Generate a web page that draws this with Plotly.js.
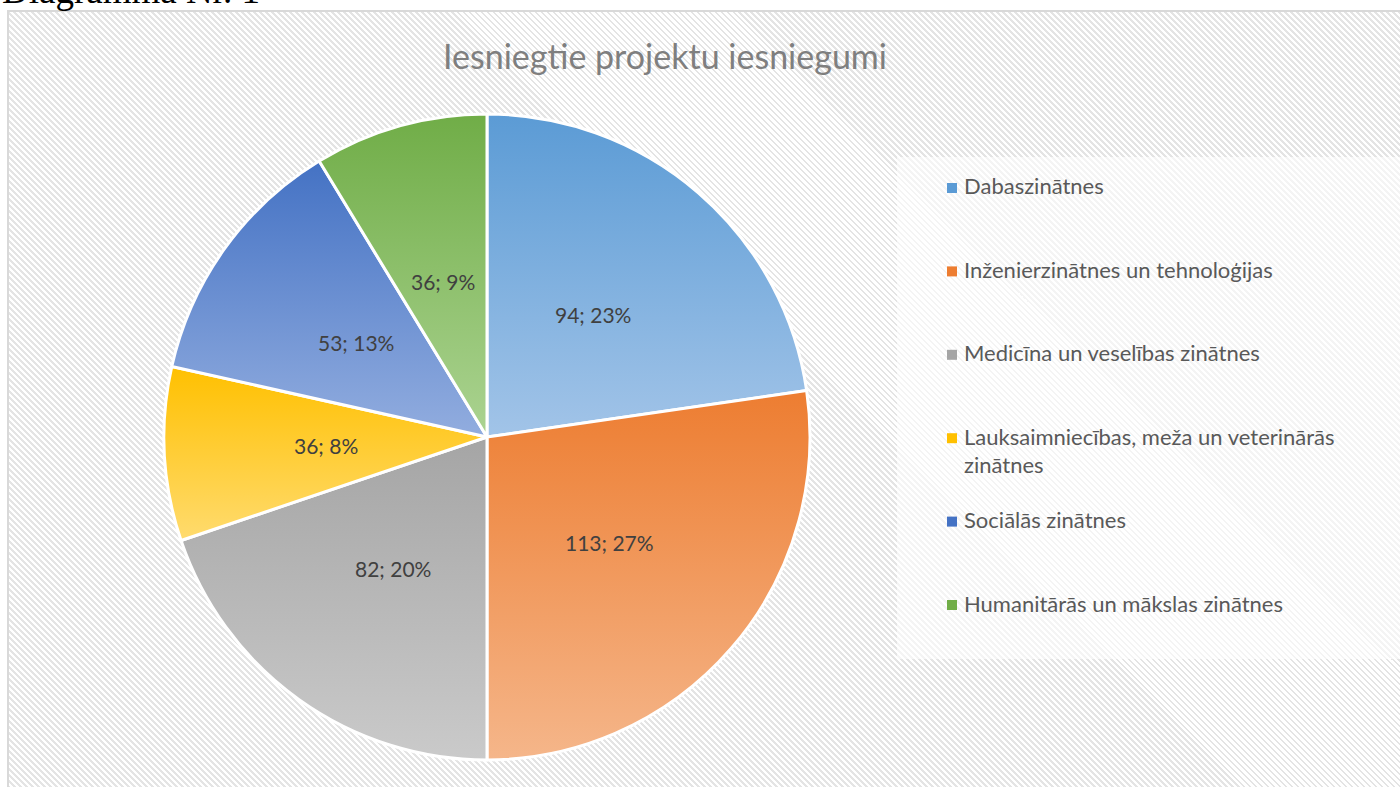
<!DOCTYPE html>
<html>
<head>
<meta charset="utf-8">
<script src="https://cdn.plot.ly/plotly-3.0.1.min.js"></script>
<style>
  html, body { margin: 0; padding: 0; width: 1400px; height: 787px; overflow: hidden; background: #fff; }
  #frame {
    position: absolute; left: 7px; top: 10px; width: 1500px; height: 900px;
    border: 2px solid #d9d9d9; box-sizing: border-box;
    background-color: #fff;
    background-image: repeating-linear-gradient(45deg, #e4e4e4 0px, #e4e4e4 2px, #ffffff 2px, #ffffff 4.24px);
  }
  #legendbox {
    position: absolute; left: 897px; top: 157px; width: 503px; height: 502px;
    background: rgba(255,255,255,0.6);
  }
  #chart { position: absolute; left: 0; top: 0; width: 1400px; height: 787px; }
</style>
</head>
<body>
<div id="frame"></div>
<div id="legendbox"></div>
<div id="chart"></div>
<script>
// ---- data ----
const categories = [
  "Dabaszinātnes",
  "Inženierzinātnes un tehnoloģijas",
  "Medicīna un veselības zinātnes",
  "Lauksaimniecības, meža un veterinārās zinātnes",
  "Sociālās zinātnes",
  "Humanitārās un mākslas zinātnes"
];
const values = [94, 113, 82, 36, 53, 36];
const percentLabels = ["23%", "27%", "20%", "8%", "13%", "9%"];
const colorsTop    = ["#5B9BD5", "#ED7D31", "#A5A5A5", "#FFC000", "#4472C4", "#70AD47"];
const colorsBottom = ["#A2C4E8", "#F5B68A", "#CACACA", "#FFDB6E", "#92ADDF", "#ABD391"];
const chartTitle = "Iesniegtie projektu iesniegumi";
const captionText = "Diagramma Nr. 1";

// ---- layout helpers ----
const W = 1400, H = 787;
const px = x => x / W;
const py = y => 1 - y / H;
const CX = 487, CY = 437, R = 323;

const sliceText = values.map((v, i) => v + "; " + percentLabels[i]);

const trace = {
  type: "pie",
  labels: categories,
  values: values,
  text: sliceText,
  textinfo: "none",
  sort: false,
  direction: "clockwise",
  rotation: 0,
  marker: { colors: colorsTop, line: { color: "#ffffff", width: 3 } },
  hoverinfo: "label+text",
  domain: { x: [px(CX - R), px(CX + R)], y: [py(CY + R), py(CY - R)] },
  showlegend: false
};

const annotations = [];
const shapes = [];

// data labels at half radius along each slice bisector (derived from values)
const total = values.reduce((a, b) => a + b, 0);
let cum = 0;
values.forEach((v, i) => {
  const mid = (cum + v / 2) / total * 2 * Math.PI;
  cum += v;
  const lx = CX + 0.5 * R * Math.sin(mid);
  const ly = CY - 0.5 * R * Math.cos(mid);
  annotations.push({
    text: sliceText[i], xref: "paper", yref: "paper", x: px(lx), y: py(ly),
    xanchor: "center", yanchor: "middle", showarrow: false,
    font: { family: "Lato, 'Open Sans', sans-serif", size: 21, color: "#404040" }
  });
});

// legend built from the category arrays
const legendX0 = 947, legendTextX = 962, legendY0 = 186, legendStep = 83.4, lineH = 28;
function wrap(s, maxChars) {
  const words = s.split(" "); const lines = []; let cur = "";
  words.forEach(w => {
    if ((cur + " " + w).trim().length > maxChars && cur) { lines.push(cur); cur = w; }
    else cur = (cur ? cur + " " : "") + w;
  });
  if (cur) lines.push(cur);
  return lines;
}
categories.forEach((c, i) => {
  const yc = legendY0 + legendStep * i;
  wrap(c, 40).forEach((ln, j) => {
    annotations.push({
      text: ln, xref: "paper", yref: "paper", x: px(legendTextX), y: py(yc + j * lineH),
      xanchor: "left", yanchor: "middle", showarrow: false,
      font: { family: "Lato, 'Open Sans', sans-serif", size: 22, color: "#595959" }
    });
  });
  shapes.push({
    type: "rect", xref: "paper", yref: "paper",
    x0: px(legendX0), x1: px(legendX0 + 10), y0: py(yc - 3), y1: py(yc + 7),
    line: { width: 0 }, fillcolor: colorsTop[i]
  });
});

annotations.push({
  text: captionText, xref: "paper", yref: "paper", x: px(0), y: py(13),
  xanchor: "left", yanchor: "bottom", showarrow: false,
  font: { family: "'Liberation Serif', 'Times New Roman', serif", size: 37, color: "#000000" }
});

const layout = {
  width: W, height: H,
  margin: { l: 0, r: 0, t: 0, b: 0 },
  paper_bgcolor: "rgba(0,0,0,0)",
  plot_bgcolor: "rgba(0,0,0,0)",
  title: {
    text: chartTitle,
    x: px(665), xanchor: "center", xref: "paper",
    y: py(57), yanchor: "middle", yref: "paper",
    font: { family: "Lato, 'Open Sans', sans-serif", size: 34, color: "#7f7f7f", weight: 400 }
  },
  showlegend: false,
  annotations: annotations,
  shapes: shapes
};

function applyGradients(gd) {
  const svg = gd.querySelector("svg.main-svg");
  if (!svg) return;
  const NS = "http://www.w3.org/2000/svg";
  let defs = svg.querySelector("defs");
  if (!defs) { defs = document.createElementNS(NS, "defs"); svg.insertBefore(defs, svg.firstChild); }
  colorsTop.forEach((c, i) => {
    const id = "slicegrad" + i;
    if (!defs.querySelector("#" + id)) {
      const g = document.createElementNS(NS, "linearGradient");
      g.setAttribute("id", id);
      g.setAttribute("x1", "0"); g.setAttribute("y1", "0");
      g.setAttribute("x2", "0"); g.setAttribute("y2", "1");
      const s1 = document.createElementNS(NS, "stop");
      s1.setAttribute("offset", "0"); s1.setAttribute("stop-color", c);
      const s2 = document.createElementNS(NS, "stop");
      s2.setAttribute("offset", "1"); s2.setAttribute("stop-color", colorsBottom[i]);
      g.appendChild(s1); g.appendChild(s2);
      defs.appendChild(g);
    }
  });
  gd.querySelectorAll("g.slice").forEach((sl, i) => {
    const p = sl.querySelector("path.surface");
    if (p) p.style.fill = "url(#slicegrad" + i + ")";
  });
}

const gd = document.getElementById("chart");
Plotly.newPlot(gd, [trace], layout, { displayModeBar: false, staticPlot: true }).then(() => {
  applyGradients(gd);
  gd.on && gd.on("plotly_afterplot", () => applyGradients(gd));
});
</script>
</body>
</html>
